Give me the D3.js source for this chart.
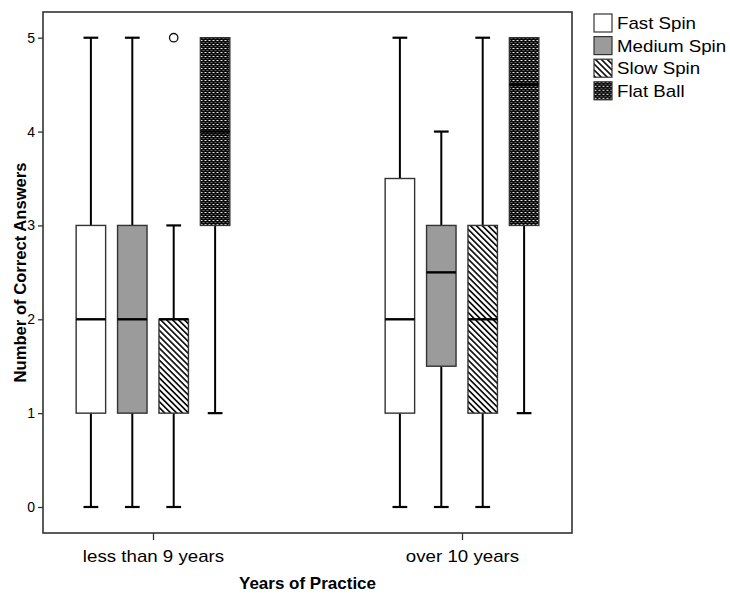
<!DOCTYPE html>
<html>
<head>
<meta charset="utf-8">
<script src="https://cdn.jsdelivr.net/npm/d3@7"></script>
<style>
  body { margin: 0; background: #fff; }
  text { font-family: "Liberation Sans", Arial, sans-serif; fill: #000; }
</style>
</head>
<body>
<svg id="container" width="730" height="595"></svg>
<script>
// chart values
const groups = ["less than 9 years", "over 10 years"];
const series = ["Fast Spin", "Medium Spin", "Slow Spin", "Flat Ball"];
const yTicks = [0, 1, 2, 3, 4, 5];

// one row per group, one column per series
const whiskerLow  = [[0, 0, 0, 1], [0, 0, 0, 1]];
const q1          = [[1, 1, 1, 3], [1, 1.5, 1, 3]];
const median      = [[2, 2, 2, 4], [2, 2.5, 2, 4.5]];
const q3          = [[3, 3, 2, 5], [3.5, 3, 3, 5]];
const whiskerHigh = [[5, 5, 3, 5], [5, 4, 5, 5]];
const outliers    = [{ group: "less than 9 years", series: "Slow Spin", value: 5 }];

const margin = { top: 12, bottom: 62, left: 43, right: 158 };
const width = 730, height = 595;

let svg = d3.select("#container");
let defs = svg.append("defs");

// fill patterns
let slow = defs.append("pattern").attr("id", "slow")
    .attr("patternUnits", "userSpaceOnUse")
    .attr("width", 4.2).attr("height", 4.2)
    .attr("patternTransform", "rotate(-45)");
slow.append("rect").attr("width", 4.2).attr("height", 4.2).attr("fill", "#fff");
slow.append("rect").attr("width", 1.7).attr("height", 4.2).attr("fill", "#111");

let flat = defs.append("pattern").attr("id", "flat")
    .attr("patternUnits", "userSpaceOnUse")
    .attr("width", 4).attr("height", 4);
flat.append("rect").attr("width", 4).attr("height", 4).attr("fill", "#0a0a0a");
flat.append("rect").attr("x", 0.5).attr("y", 0).attr("width", 2).attr("height", 1).attr("fill", "#e8e8e8");
flat.append("rect").attr("x", 2.5).attr("y", 2).attr("width", 2).attr("height", 1).attr("fill", "#666");
flat.append("rect").attr("x", -1.5).attr("y", 2).attr("width", 2).attr("height", 1).attr("fill", "#666");

const fills = { "Fast Spin": "#fff", "Medium Spin": "#9b9b9b", "Slow Spin": "url(#slow)", "Flat Ball": "url(#flat)" };

// scales
let y = d3.scaleLinear()
    .domain([-0.277, 5.274])
    .range([height - margin.bottom, margin.top]);

let x = d3.scalePoint()
    .domain(groups)
    .range([margin.left, width - margin.right])
    .padding(0.356);

let inner = d3.scaleBand()
    .domain(series)
    .range([-76.85, 76.85])
    .paddingInner(0.288)
    .paddingOuter(0);

let bw = inner.bandwidth();

// frame
svg.append("rect")
    .attr("x", margin.left).attr("y", margin.top)
    .attr("width", width - margin.left - margin.right)
    .attr("height", height - margin.top - margin.bottom)
    .attr("fill", "none").attr("stroke", "#333").attr("stroke-width", 1.6);

// y axis
let yAxis = svg.append("g")
    .attr("transform", `translate(${margin.left},0)`)
    .call(d3.axisLeft(y).tickValues(yTicks).tickSize(5).tickPadding(3).tickFormat(d3.format("d")));
yAxis.select(".domain").remove();
yAxis.selectAll("line").attr("stroke", "#333").attr("stroke-width", 1.3);
yAxis.selectAll("text").style("font-size", "14px").style("font-family", "Liberation Sans, Arial, sans-serif");

// x axis
let xAxis = svg.append("g")
    .attr("transform", `translate(0,${height - margin.bottom})`)
    .call(d3.axisBottom(x).tickSize(7).tickPadding(10));
xAxis.select(".domain").remove();
xAxis.selectAll("line").attr("stroke", "#333").attr("stroke-width", 1.3);
xAxis.selectAll("text")
    .style("font-size", "17px").style("font-family", "Liberation Sans, Arial, sans-serif")
    .attr("dy", "0.71em")
    .each(function() {
        let n = this.getComputedTextLength();
        d3.select(this).attr("textLength", n * 1.1).attr("lengthAdjust", "spacingAndGlyphs");
    });

// box data
let boxes = [];
groups.forEach((g, gi) => {
    series.forEach((s, si) => {
        boxes.push({
            group: g, series: s,
            lo: whiskerLow[gi][si], q1: q1[gi][si], med: median[gi][si],
            q3: q3[gi][si], hi: whiskerHigh[gi][si]
        });
    });
});

let body = svg.append("g");
let cx = d => x(d.group) + inner(d.series) + bw / 2;

let box = body.selectAll("g.box").data(boxes).enter()
    .append("g").attr("class", "box");

// whiskers
box.append("line")
    .attr("x1", cx).attr("x2", cx)
    .attr("y1", d => y(d.lo)).attr("y2", d => y(d.q1))
    .attr("stroke", "#000").attr("stroke-width", 2);
box.append("line")
    .attr("x1", cx).attr("x2", cx)
    .attr("y1", d => y(d.q3)).attr("y2", d => y(d.hi))
    .attr("stroke", "#000").attr("stroke-width", 2);
box.filter(d => d.lo < d.q1).append("line")
    .attr("x1", d => cx(d) - bw / 4).attr("x2", d => cx(d) + bw / 4)
    .attr("y1", d => y(d.lo)).attr("y2", d => y(d.lo))
    .attr("stroke", "#000").attr("stroke-width", 2.2);
box.filter(d => d.hi > d.q3).append("line")
    .attr("x1", d => cx(d) - bw / 4).attr("x2", d => cx(d) + bw / 4)
    .attr("y1", d => y(d.hi)).attr("y2", d => y(d.hi))
    .attr("stroke", "#000").attr("stroke-width", 2.2);

// boxes
box.append("rect")
    .attr("x", d => x(d.group) + inner(d.series))
    .attr("y", d => y(d.q3))
    .attr("width", bw)
    .attr("height", d => y(d.q1) - y(d.q3))
    .attr("fill", d => fills[d.series])
    .attr("stroke", "#333").attr("stroke-width", 1.4);

// medians
box.append("line")
    .attr("x1", d => x(d.group) + inner(d.series)).attr("x2", d => x(d.group) + inner(d.series) + bw)
    .attr("y1", d => y(d.med)).attr("y2", d => y(d.med))
    .attr("stroke", "#000").attr("stroke-width", 2.4);

// outliers
body.selectAll("circle.out").data(outliers).enter()
    .append("circle").attr("class", "out")
    .attr("cx", cx)
    .attr("cy", d => y(d.value))
    .attr("r", 4.2)
    .attr("fill", "#fff").attr("stroke", "#111").attr("stroke-width", 1.3);

// axis titles
svg.append("text")
    .attr("transform", `translate(26,${(margin.top + height - margin.bottom) / 2}) rotate(-90)`)
    .attr("text-anchor", "middle")
    .style("font-size", "16px").style("font-weight", "bold")
    .attr("textLength", 220).attr("lengthAdjust", "spacingAndGlyphs")
    .text("Number of Correct Answers");

svg.append("text")
    .attr("x", (margin.left + width - margin.right) / 2)
    .attr("y", 589)
    .attr("text-anchor", "middle")
    .style("font-size", "17px").style("font-weight", "bold")
    .text("Years of Practice");

// legend
let legend = svg.append("g").attr("transform", "translate(594,14)");
let item = legend.selectAll("g").data(series).enter()
    .append("g").attr("transform", (d, i) => `translate(0,${i * 22.6})`);
item.append("rect")
    .attr("width", 18).attr("height", 18)
    .attr("fill", d => fills[d])
    .attr("stroke", "#333").attr("stroke-width", 1.2);
item.append("text")
    .attr("x", 23).attr("y", 15)
    .style("font-size", "17px")
    .text(d => d)
    .each(function() {
        let n = this.getComputedTextLength();
        d3.select(this).attr("textLength", n * 1.1).attr("lengthAdjust", "spacingAndGlyphs");
    });
</script>
</body>
</html>
